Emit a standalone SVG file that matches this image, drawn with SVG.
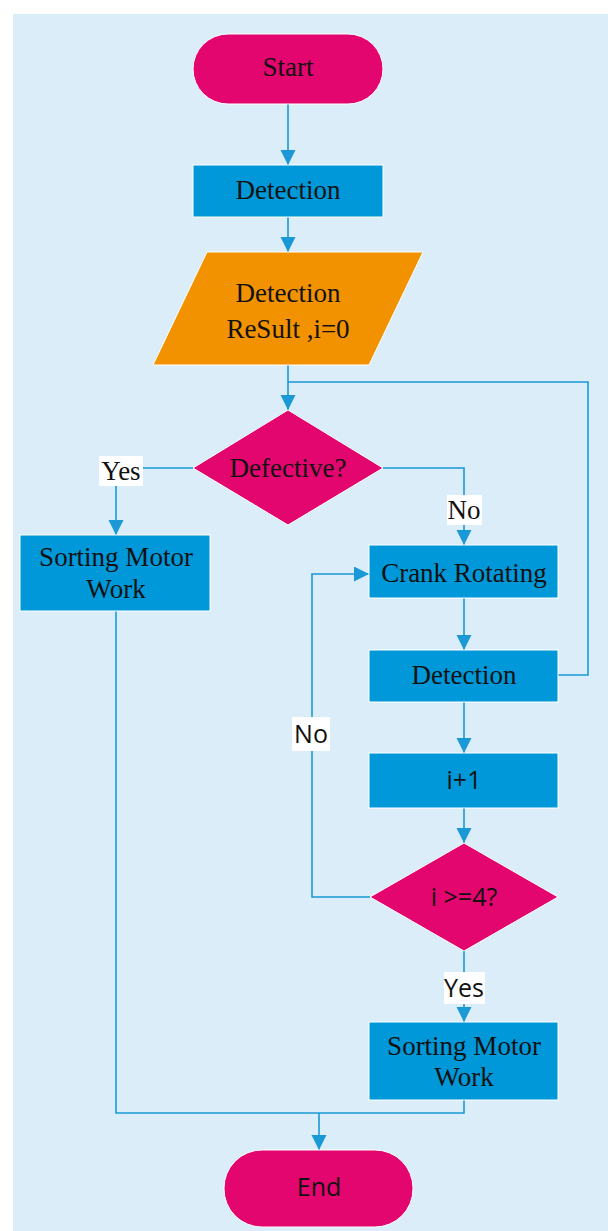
<svg xmlns="http://www.w3.org/2000/svg" width="608" height="1231" viewBox="0 0 608 1231">
<style>
.bg{fill:#daedf9}
.term{fill:#e2066e;stroke:#fff;stroke-width:1}
.proc{fill:#0098d8;stroke:#fff;stroke-width:1}
.io{fill:#f39200;stroke:#fff;stroke-width:1}
.dec{fill:#e2066e;stroke:#fff;stroke-width:1}
.serif{font-family:"Liberation Serif","Times New Roman",serif;font-size:27px;fill:#111;text-anchor:middle}
.sans{font-family:"Open Sans","Noto Sans",sans-serif;font-size:25px;fill:#111;text-anchor:middle}
.conn{fill:none;stroke:#1a99d6;stroke-width:1.6}
.lbl{fill:#fff}
</style>
<defs>
<marker id="ah" markerUnits="userSpaceOnUse" markerWidth="16" markerHeight="16" refX="15" refY="7.5" orient="auto">
<path d="M0,0 L15,7.5 L0,15 z" fill="#1a99d6"/>
</marker>
</defs>
<rect x="0" y="0" width="608" height="1231" fill="#fff"/>
<rect class="bg" x="13" y="14" width="595" height="1217"/>

<g id="connectors">
<path class="conn" d="M288,104 V165" marker-end="url(#ah)"/>
<path class="conn" d="M288,217 V252" marker-end="url(#ah)"/>
<path class="conn" d="M288,365 V410" marker-end="url(#ah)"/>
<path class="conn" d="M558,675 H588 V382 H288"/>
<path class="conn" d="M193,468 H116 V535" marker-end="url(#ah)"/>
<path class="conn" d="M383,468 H464 V545" marker-end="url(#ah)"/>
<path class="conn" d="M464,598 V650" marker-end="url(#ah)"/>
<path class="conn" d="M464,702 V753" marker-end="url(#ah)"/>
<path class="conn" d="M464,808 V843" marker-end="url(#ah)"/>
<path class="conn" d="M370,897 H312 V574 H369" marker-end="url(#ah)"/>
<path class="conn" d="M464,950 V1022" marker-end="url(#ah)"/>
<path class="conn" d="M116,610 V1113 H464 V1100"/>
<path class="conn" d="M319,1113 V1150" marker-end="url(#ah)"/>
<rect class="lbl" x="99" y="456" width="44" height="30"/>
<text class="serif" x="121" y="480">Yes</text>
<rect class="lbl" x="447" y="495" width="35" height="30"/>
<text class="serif" x="464" y="519">No</text>
<rect class="lbl" x="292" y="717" width="38" height="34"/>
<text class="sans" x="311" y="743">No</text>
<rect class="lbl" x="444" y="972" width="41" height="32"/>
<text class="sans" x="464" y="997">Yes</text>
</g>

<g id="start">
<rect class="term" x="193" y="34" width="190" height="70" rx="35" ry="35"/>
<text class="serif" x="288" y="76">Start</text>
</g>
<g id="detection1">
<rect class="proc" x="193" y="165" width="190" height="52"/>
<text class="serif" x="288" y="199">Detection</text>
</g>
<g id="result">
<polygon class="io" points="207,252 423,252 369,365 153,365"/>
<text class="serif" x="288" y="302">Detection</text>
<text class="serif" x="288" y="338">ReSult ,i=0</text>
</g>
<g id="defective">
<polygon class="dec" points="288,410 383,468 288,525 193,468"/>
<text class="serif" x="288" y="477">Defective?</text>
</g>
<g id="sort1">
<rect class="proc" x="20" y="535" width="190" height="76"/>
<text class="serif" x="116" y="566">Sorting Motor</text>
<text class="serif" x="116" y="598">Work</text>
</g>
<g id="crank">
<rect class="proc" x="369" y="545" width="189" height="53"/>
<text class="serif" x="464" y="582">Crank Rotating</text>
</g>
<g id="detection2">
<rect class="proc" x="369" y="650" width="189" height="52"/>
<text class="serif" x="464" y="684">Detection</text>
</g>
<g id="inc">
<rect class="proc" x="369" y="753" width="189" height="55"/>
<text class="sans" x="464" y="789">i+1</text>
</g>
<g id="check">
<polygon class="dec" points="464,843 558,897 464,951 370,897"/>
<text class="sans" x="464" y="906">i &gt;=4?</text>
</g>
<g id="sort2">
<rect class="proc" x="369" y="1022" width="189" height="78"/>
<text class="serif" x="464" y="1055">Sorting Motor</text>
<text class="serif" x="464" y="1086">Work</text>
</g>
<g id="end">
<rect class="term" x="224" y="1150" width="189" height="77" rx="38" ry="38"/>
<text class="sans" x="319" y="1196">End</text>
</g>
</svg>
